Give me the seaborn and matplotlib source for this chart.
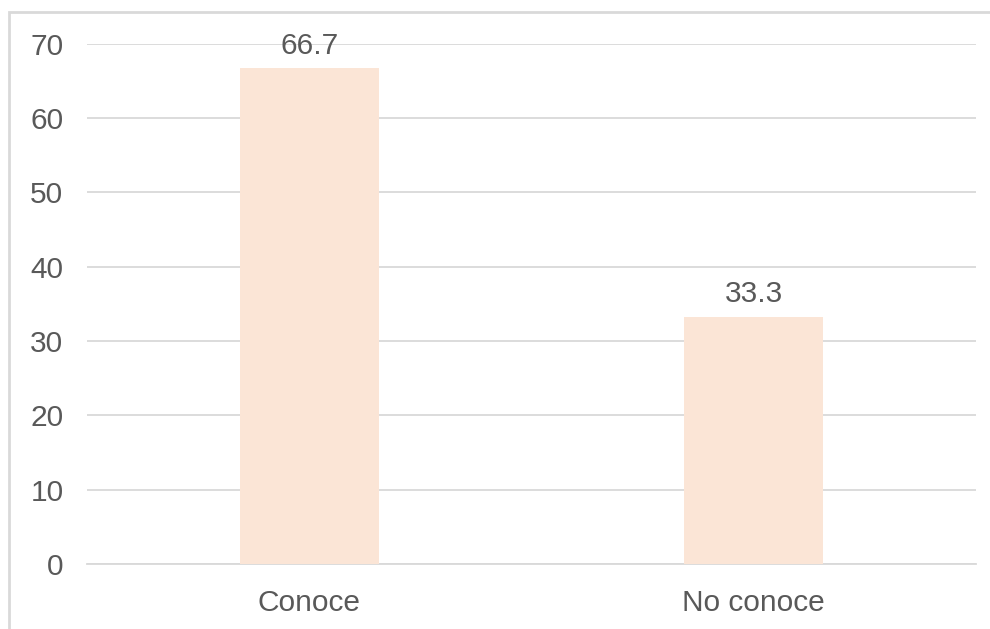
import matplotlib
matplotlib.use("Agg")
import matplotlib.pyplot as plt
import seaborn as sns
import pandas as pd
from matplotlib.patches import Rectangle

categories = ["Conoce", "No conoce"]
values = [66.7, 33.3]
yticks = [0, 10, 20, 30, 40, 50, 60, 70]

sns.set_theme(style="white")
plt.rcParams['font.family'] = ['Liberation Sans', 'DejaVu Sans']

TXT = "#595959"
GRID = "#D9D9D9"
BAR = "#FBE5D6"

fig = plt.figure(figsize=(9.9, 6.29), dpi=100)
ax = fig.add_axes([0.0879, 0.1033, 0.898, 0.827])

df = pd.DataFrame({"cat": categories, "val": values})
sns.barplot(data=df, x="cat", y="val", color=BAR, saturation=1, width=0.313, ax=ax,
            zorder=3, linewidth=0, edgecolor=BAR)

ax.set_xlim(-0.5, 1.5)
ax.set_ylim(0, 70)
ax.set_yticks(yticks)
ax.set_yticklabels([str(t) for t in yticks])
ax.yaxis.grid(True, color=GRID, linewidth=1.3, zorder=0)
ax.set_axisbelow(True)
for s in ["top", "right", "left"]:
    ax.spines[s].set_visible(False)
ax.spines["bottom"].set_color(GRID)
ax.spines["bottom"].set_linewidth(1.3)
ax.tick_params(axis="y", length=0, pad=17, labelsize=21.5, labelcolor=TXT)
ax.tick_params(axis="x", length=0, pad=18, labelsize=21.5, labelcolor=TXT)
ax.set_xlabel("")
ax.set_ylabel("")

for c in ax.containers:
    ax.bar_label(c, labels=[f"{v:.1f}" for v in values], padding=6, fontsize=21.5, color=TXT)

fig.patches.append(Rectangle((9 / 990, -0.1), 1.2, 1 - 12 / 629 + 0.1, transform=fig.transFigure,
                             fill=False, edgecolor=GRID, linewidth=2, zorder=10))

fig.savefig("out.png", dpi=100)
